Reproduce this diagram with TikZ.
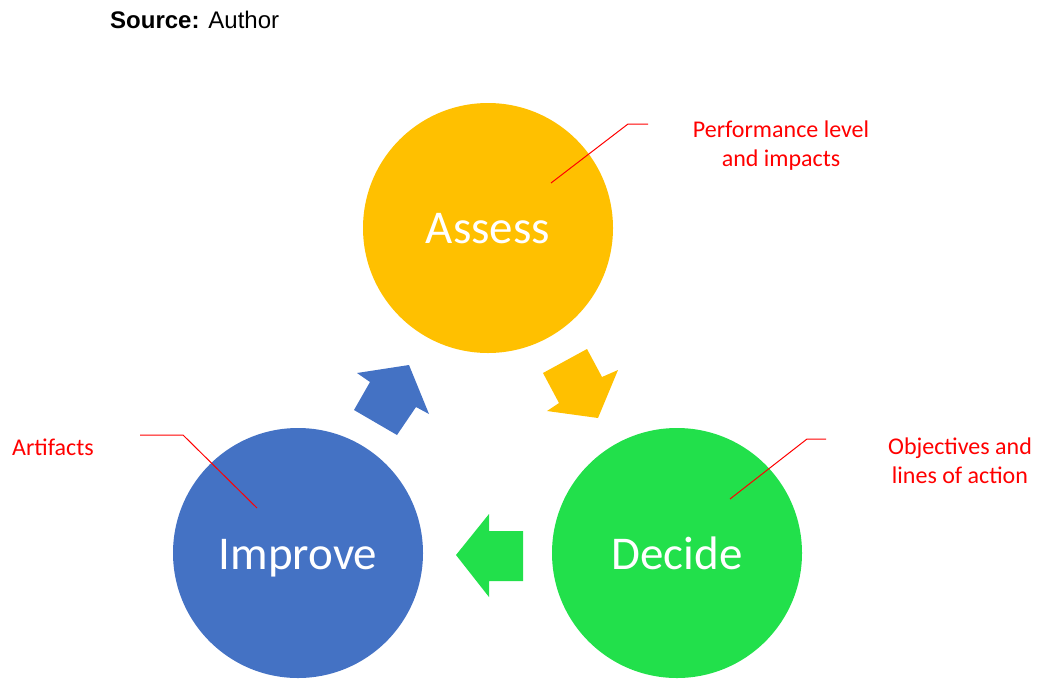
\documentclass[tikz,border=0pt]{standalone}
\usepackage{fontspec}
\setmainfont{Carlito}
\newfontfamily\arialfont{Liberation Sans}
\definecolor{cyellow}{HTML}{FFC000}
\definecolor{cblue}{HTML}{4472C4}
\definecolor{cgreen}{HTML}{22E04B}
\definecolor{cred}{HTML}{FF0000}
\begin{document}
\begin{tikzpicture}[x=1pt,y=-1pt,
  stage/.style={circle,minimum size=250pt,inner sep=0pt,draw=none},
  stagelabel/.style={anchor=base,text=white,font=\fontsize{47}{56}\selectfont,inner sep=0pt},
  note/.style={text=cred,align=center,font=\fontsize{24}{29}\selectfont,inner sep=0pt},
  leader/.style={draw=cred,line width=1pt}]
\useasboundingbox (0,0) rectangle (1038,678);
% source
\node[anchor=base west,inner sep=0pt,font=\arialfont\fontsize{24}{29}\selectfont] (src) at (110,28) {\textbf{Source:} Author};
% circles
\node[stage,fill=cyellow] (assess) at (488,228) {};
\node[stage,fill=cgreen] (decide) at (677,553) {};
\node[stage,fill=cblue] (improve) at (298,553) {};
\node[stagelabel] (assessT) at (488,243) {Assess};
\node[stagelabel] (decideT) at (677,569) {Decide};
\node[stagelabel] (improveT) at (298,569) {Improve};
% block arrows
\fill[cyellow] (543,373) -- (587,349) -- (602,377) -- (618,370) -- (598,418) -- (547,411) -- (559,403) -- cycle;
\fill[cblue] (409,365) -- (429,414) -- (416,407) -- (397,435) -- (354,410) -- (370,382) -- (357,373) -- cycle;
\fill[cgreen] (456,555) -- (489,514) -- (489,531) -- (523,531) -- (523,581) -- (489,581) -- (489,597) -- cycle;
% notes
\node[note] (perf) at (781,146) {Performance level\\and impacts};
\node[note] (obj) at (960,461) {Objectives and\\lines of action};
\node[note] (art) at (53,447) {Artifacts};
% leader lines
\coordinate (pA) at (551,183);
\coordinate (pB) at (628,124);
\coordinate (pC) at (648,124);
\coordinate (oA) at (730,499);
\coordinate (oB) at (807,439);
\coordinate (oC) at (826,439);
\coordinate (aA) at (140,435);
\coordinate (aB) at (183,435);
\coordinate (aC) at (257,508);
\draw[leader] (pA) -- (pB) -- (pC);
\draw[leader] (oA) -- (oB) -- (oC);
\draw[leader] (aA) -- (aB) -- (aC);
\end{tikzpicture}
\end{document}
